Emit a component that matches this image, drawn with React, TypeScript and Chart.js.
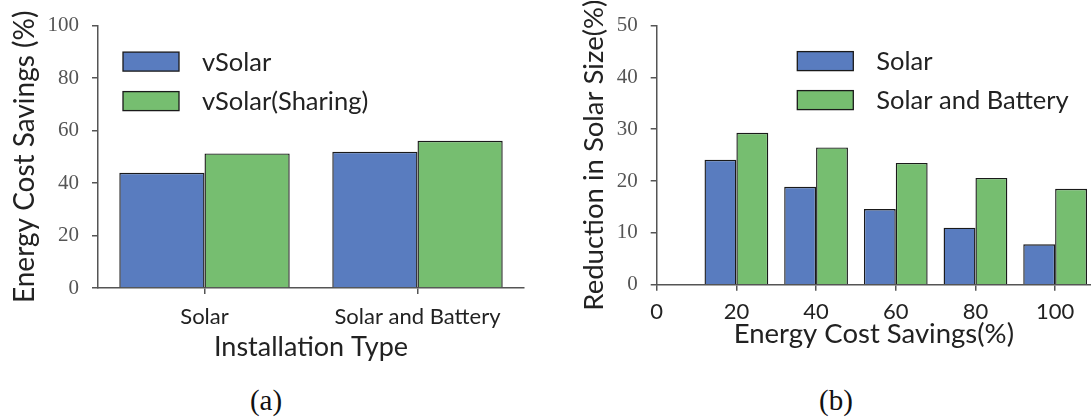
import React, { useEffect, useRef } from 'react';
import { Chart, registerables } from 'chart.js';

Chart.register(...registerables);

// ---------- data ----------
const leftCategories = ['Solar', 'Solar and Battery'];
const leftVSolar = [43.9, 51.9];
const leftVSolarSharing = [51.3, 56.1];
const leftYTicks = [0, 20, 40, 60, 80, 100];

const rightSavings = [20, 40, 60, 80, 100];
const rightSolar = [24.1, 18.9, 14.6, 11.0, 7.8];
const rightSolarBattery = [29.3, 26.5, 23.5, 20.6, 18.5];
const rightXTicks = [0, 20, 40, 60, 80, 100];
const rightYTicks = [0, 10, 20, 30, 40, 50];

// ---------- style ----------
const BLUE = '#597CBF';
const GREEN = '#76BE70';
const EDGE = '#1a1a1a';
const AXIS = '#555555';
const SANS = 'Lato, "DejaVu Sans", sans-serif';
const SERIF = '"Liberation Serif", "DejaVu Serif", serif';
const CANVAS_H = 370;

function boxLegend(dx: number, dy: number, gap: number) {
  return {
    id: 'boxLegend',
    afterDraw(chart: any) {
      const { ctx, chartArea } = chart;
      ctx.save();
      chart.data.datasets.forEach((ds: any, i: number) => {
        const x = chartArea.left + dx;
        const y = chartArea.top + dy + i * gap;
        ctx.fillStyle = ds.backgroundColor;
        ctx.fillRect(x, y, 56, 19);
        ctx.strokeStyle = EDGE;
        ctx.lineWidth = 1.3;
        ctx.strokeRect(x, y, 56, 19);
        ctx.fillStyle = '#222';
        ctx.font = `25.5px ${SANS}`;
        ctx.textBaseline = 'alphabetic';
        ctx.textAlign = 'left';
        ctx.fillText(ds.label, x + 79, y + 18.5);
      });
      ctx.restore();
    },
  };
}

const gridOpts = {
  drawOnChartArea: false,
  drawTicks: true,
  tickLength: 6,
  color: AXIS,
  lineWidth: 1.5,
  offset: false,
};
const borderOpts = { display: true, color: AXIS, width: 1.5 };

const barStyle = {
  borderColor: EDGE,
  borderWidth: 1.4,
  categoryPercentage: 0.8,
  barPercentage: 1.0,
};

function leftConfig(): any {
  return {
    type: 'bar',
    data: {
      labels: leftCategories,
      datasets: [
        { label: 'vSolar', data: leftVSolar, backgroundColor: BLUE, ...barStyle },
        { label: 'vSolar(Sharing)', data: leftVSolarSharing, backgroundColor: GREEN, ...barStyle },
      ],
    },
    options: {
      responsive: false,
      animation: false,
      layout: { padding: { top: 24, right: 16, left: 0, bottom: 0 } },
      plugins: { legend: { display: false }, tooltip: { enabled: false } },
      scales: {
        x: {
          type: 'category',
          offset: true,
          grid: gridOpts,
          border: borderOpts,
          ticks: {
            color: '#222',
            font: { family: SANS, size: 22, lineHeight: 1 },
            padding: 12,
            maxRotation: 0,
            autoSkip: false,
          },
          title: {
            display: true,
            text: 'Installation Type',
            color: '#222',
            font: { family: SANS, size: 27, lineHeight: 1 },
            padding: { top: 0, bottom: 9 },
          },
          afterFit: (s: any) => {
            s.height = CANVAS_H - 288;
          },
        },
        y: {
          min: 0,
          max: 100,
          grid: gridOpts,
          border: borderOpts,
          afterBuildTicks: (s: any) => {
            s.ticks = leftYTicks.map((v) => ({ value: v }));
          },
          ticks: {
            color: '#555',
            font: { family: SERIF, size: 21 },
            padding: 13,
          },
          title: {
            display: true,
            text: 'Energy Cost Savings (%)',
            color: '#222',
            font: { family: SANS, size: 28, lineHeight: 1 },
            padding: { top: 11, bottom: 0 },
          },
          afterFit: (s: any) => {
            s.width = 98;
          },
        },
      },
    },
    plugins: [boxLegend(25, 26.5, 39.5)],
  };
}

function rightConfig(): any {
  return {
    type: 'bar',
    data: {
      datasets: [
        {
          label: 'Solar',
          data: rightSavings.map((x, i) => ({ x, y: rightSolar[i] })),
          backgroundColor: BLUE,
          ...barStyle,
        },
        {
          label: 'Solar and Battery',
          data: rightSavings.map((x, i) => ({ x, y: rightSolarBattery[i] })),
          backgroundColor: GREEN,
          ...barStyle,
        },
      ],
    },
    options: {
      responsive: false,
      animation: false,
      layout: { padding: { top: 25, right: 0, left: 0, bottom: 0 } },
      plugins: { legend: { display: false }, tooltip: { enabled: false } },
      scales: {
        x: {
          type: 'linear',
          offset: false,
          min: 0,
          max: 109,
          grid: gridOpts,
          border: borderOpts,
          afterBuildTicks: (s: any) => {
            s.ticks = rightXTicks.map((v) => ({ value: v }));
          },
          ticks: {
            color: '#222',
            font: { family: SANS, size: 22, lineHeight: 1 },
            padding: 10,
            maxRotation: 0,
            autoSkip: false,
          },
          title: {
            display: true,
            text: 'Energy Cost Savings(%)',
            color: '#222',
            font: { family: SANS, size: 27.5, lineHeight: 1 },
            padding: { top: 0, bottom: 22 },
          },
          afterFit: (s: any) => {
            s.height = CANVAS_H - 284.7;
          },
        },
        y: {
          min: 0,
          max: 50,
          grid: gridOpts,
          border: borderOpts,
          afterBuildTicks: (s: any) => {
            s.ticks = rightYTicks.map((v) => ({ value: v }));
          },
          ticks: {
            color: '#555',
            font: { family: SERIF, size: 21 },
            padding: 13,
          },
          title: {
            display: true,
            text: 'Reduction in Solar Size(%)',
            color: '#222',
            font: { family: SANS, size: 27.5, lineHeight: 1 },
            padding: { top: 40, bottom: 0 },
          },
          afterFit: (s: any) => {
            s.width = 116.7;
          },
        },
      },
    },
    plugins: [boxLegend(140.6, 26, 39)],
  };
}

function ChartBox(props: { config: () => any; left: number; width: number }) {
  const ref = useRef<HTMLCanvasElement>(null);
  useEffect(() => {
    const chart = new Chart(ref.current as HTMLCanvasElement, props.config());
    return () => chart.destroy();
  }, []);
  return (
    <div style={{ position: 'absolute', left: props.left, top: 0, width: props.width, height: CANVAS_H }}>
      <canvas ref={ref} width={props.width} height={CANVAS_H} style={{ display: 'block' }} />
    </div>
  );
}

const captionStyle = (center: number): React.CSSProperties => ({
  position: 'absolute',
  left: center - 40,
  width: 80,
  top: 384,
  textAlign: 'center',
  fontFamily: SERIF,
  fontSize: 29,
  lineHeight: '32px',
  color: '#111',
});

export default function App() {
  return (
    <div style={{ position: 'absolute', left: 0, top: 0, width: 1091, height: 418, background: '#fff', overflow: 'hidden' }}>
      <ChartBox config={leftConfig} left={0} width={540} />
      <ChartBox config={rightConfig} left={540} width={551} />
      <div style={captionStyle(266)}>(a)</div>
      <div style={captionStyle(836)}>(b)</div>
    </div>
  );
}
